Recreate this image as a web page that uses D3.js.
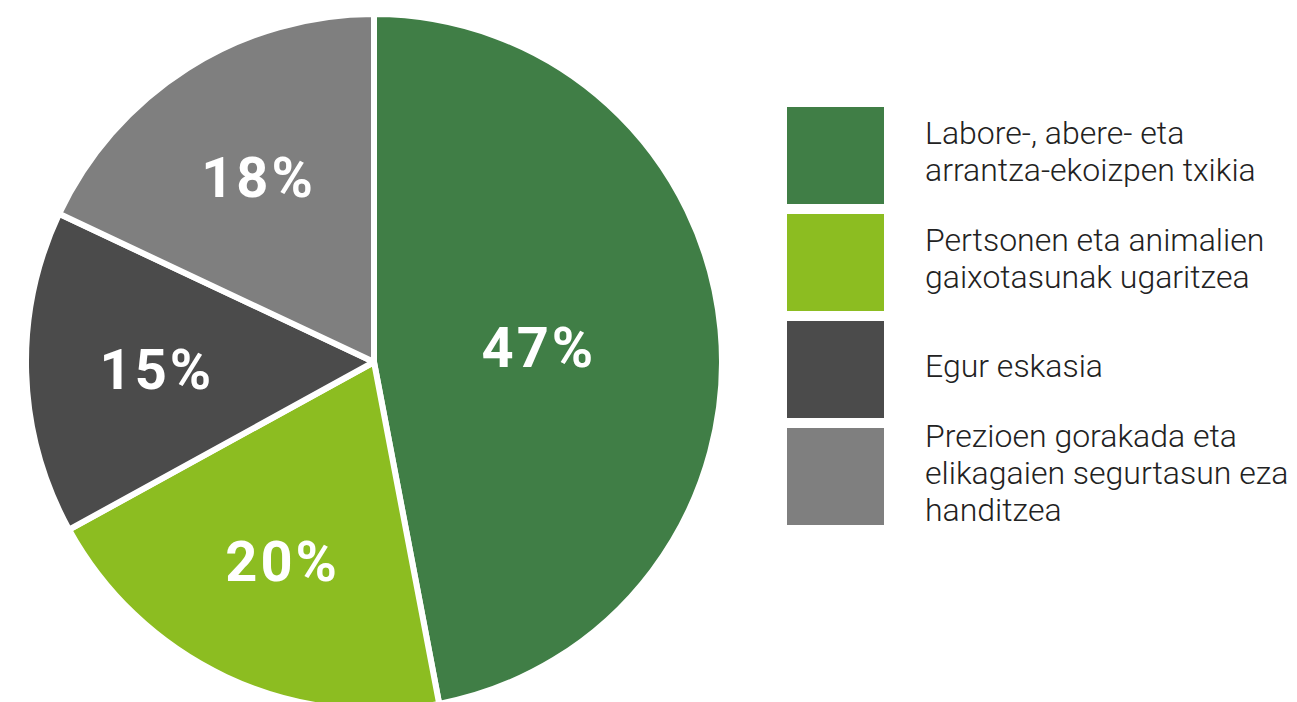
<!DOCTYPE html>
<html>
<head>
<meta charset="utf-8">
<script src="https://cdn.jsdelivr.net/npm/d3@7"></script>
<style>
  body { margin: 0; background: #fff; }
  svg { display: block; }
</style>
</head>
<body>
<div id="chart"></div>
<script>
var svgWidth = 1297;
var svgHeight = 702;

// data
var categories = [
    ["Labore-, abere- eta", "arrantza-ekoizpen txikia"],
    ["Pertsonen eta animalien", "gaixotasunak ugaritzea"],
    ["Egur eskasia"],
    ["Prezioen gorakada eta", "elikagaien segurtasun eza", "handitzea"]
];
var values = [47, 20, 15, 18];
var colors = ["#407e46", "#8cbd21", "#4b4b4b", "#7f7f7f"];

var cx = 374, cy = 362, radius = 348;

var svg = d3.select("#chart")
    .append("svg")
    .attr("width", svgWidth)
    .attr("height", svgHeight);

var pieGroup = svg.append("g")
    .attr("transform", `translate(${cx}, ${cy})`);

var pie = d3.pie().sort(null).value(d => d);
var arcs = pie(values);

var arc = d3.arc().innerRadius(0).outerRadius(radius);
var bigLabelArc = d3.arc().innerRadius(radius * 0.47).outerRadius(radius * 0.47);
var smallLabelArc = d3.arc().innerRadius(radius * 0.63).outerRadius(radius * 0.63);

pieGroup.selectAll("path")
    .data(arcs)
    .enter()
    .append("path")
    .attr("d", arc)
    .attr("fill", (d, i) => colors[i])
    .attr("stroke", "#fff")
    .attr("stroke-width", 6)
    .attr("stroke-linejoin", "round");

pieGroup.selectAll("text.pct")
    .data(arcs)
    .enter()
    .append("text")
    .attr("class", "pct")
    .attr("transform", d => {
        var c = (d.value > 40 ? bigLabelArc : smallLabelArc).centroid(d);
        return `translate(${c[0] + 2}, ${c[1]})`;
    })
    .attr("dy", "0.36em")
    .attr("text-anchor", "middle")
    .attr("font-family", "Roboto, sans-serif")
    .attr("font-weight", 700)
    .attr("font-size", 56)
    .attr("letter-spacing", 3)
    .attr("fill", "#fff")
    .text(d => d.value + "%");

// legend
var legendY = d3.scaleBand()
    .domain(d3.range(categories.length))
    .range([107, 107 + 107 * categories.length - 10])
    .paddingInner(10 / 107);

var legend = svg.append("g");

var items = legend.selectAll("g")
    .data(categories)
    .enter()
    .append("g")
    .attr("transform", (d, i) => `translate(787, ${legendY(i)})`);

items.append("rect")
    .attr("width", legendY.bandwidth())
    .attr("height", legendY.bandwidth())
    .attr("fill", (d, i) => colors[i]);

var lineH = 37;
items.append("text")
    .attr("font-family", "Roboto, sans-serif")
    .attr("font-weight", 300)
    .attr("font-size", 32)
    .attr("fill", "#222")
    .each(function(lines) {
        var t = d3.select(this);
        var mid = legendY.bandwidth() / 2;
        lines.forEach(function(line, j) {
            t.append("tspan")
                .attr("x", 138)
                .attr("y", mid - (lines.length - 1) / 2 * lineH + j * lineH + 7)
                .text(line);
        });
    });
</script>
</body>
</html>
